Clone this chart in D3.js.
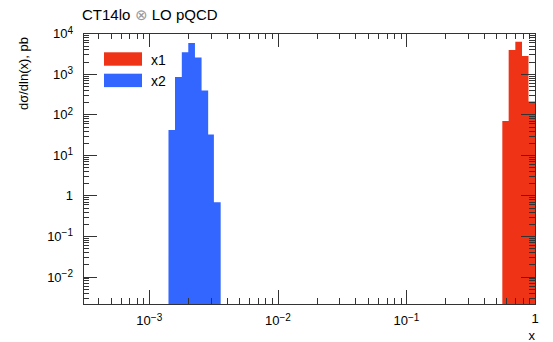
<!DOCTYPE html>
<html>
<head>
<meta charset="utf-8">
<script src="https://cdn.jsdelivr.net/npm/d3@7"></script>
<style>
  body { margin: 0; background: #fff; }
  svg { display: block; font-family: "Liberation Sans", Arial, Helvetica, sans-serif; }
</style>
</head>
<body>
<svg id="chart" width="553" height="342"></svg>
<script>
// histogram bin edges (x) and contents (dsigma/dln(x), pb)
var x1Edges = [0.557, 0.624, 0.703, 0.792, 0.890, 1.0];
var x1Values = [69, 3870, 6210, 2750, 208];
var x2Edges = [0.00141, 0.001585, 0.00179, 0.00201, 0.002265, 0.00255, 0.00287, 0.00318, 0.00359];
var x2Values = [41, 837, 3400, 5770, 2530, 389, 32, 0.68];

var seriesNames = ["x1", "x2"];
var seriesColors = ["#ee3316", "#3366ff"];

var xTickLabels = [[1e-3, "10", "\u22123"], [1e-2, "10", "\u22122"], [1e-1, "10", "\u22121"], [1, "1", ""]];
var yTickLabels = [[1e4, "10", "4"], [1e3, "10", "3"], [1e2, "10", "2"], [1e1, "10", "1"], [1, "1", ""], [1e-1, "10", "\u22121"], [1e-2, "10", "\u22122"]];

var width = 553, height = 342;
// note: "top" is taken by window.top, so the frame edges get their own names
var frameL = 83, frameR = 535, frameT = 33.3, frameB = 304;

var svg = d3.select("#chart");

var x = d3.scaleLog().domain([3.05e-4, 1]).range([frameL, frameR]);
var y = d3.scaleLog().domain([2.1e-3, 1e4]).range([frameB, frameT]);

svg.append("clipPath").attr("id", "plotclip")
  .append("rect").attr("x", frameL).attr("y", frameT).attr("width", frameR - frameL).attr("height", frameB - frameT);

//turn edges + values into bins
function makeBins(edges, values){
  return values.map(function(v, i){
    return {x0: edges[i], x1: edges[i + 1], v: v};
  });
}

var plot = svg.append("g").attr("clip-path", "url(#plotclip)");

[makeBins(x1Edges, x1Values), makeBins(x2Edges, x2Values)].forEach(function(bins, s){
  // build the histogram outline as one path so neighbouring bins don't leave seams
  var pts = [[x(bins[0].x0), frameB]];
  bins.forEach(function(b){
    pts.push([x(b.x0), y(b.v)]);
    pts.push([x(b.x1), y(b.v)]);
  });
  pts.push([x(bins[bins.length - 1].x1), frameB]);
  plot.append("path")
    .attr("d", "M" + pts.map(function(p){ return p.join(","); }).join("L") + "Z")
    .attr("fill", seriesColors[s])
    .attr("stroke", "none");
});

// frame + ticks on all four sides
var axisColor = "#333";
var g = svg.append("g").attr("stroke", axisColor).attr("stroke-width", 1).attr("shape-rendering", "crispEdges");

function isMajor(t){
  var l = Math.log10(t);
  return Math.abs(l - Math.round(l)) < 1e-6;
}

var xt = x.ticks();
var yt = y.ticks();

g.selectAll(".xtick").data(xt).join("line")
  .attr("x1", function(d){ return Math.round(x(d)) + 0.5; })
  .attr("x2", function(d){ return Math.round(x(d)) + 0.5; })
  .attr("y1", frameB)
  .attr("y2", function(d){ return frameB - (isMajor(d) ? 14 : 6); });

g.selectAll(".xtickTop").data(xt).join("line")
  .attr("x1", function(d){ return Math.round(x(d)) + 0.5; })
  .attr("x2", function(d){ return Math.round(x(d)) + 0.5; })
  .attr("y1", frameT)
  .attr("y2", function(d){ return frameT + (isMajor(d) ? 14 : 6); });

g.selectAll(".ytick").data(yt).join("line")
  .attr("y1", function(d){ return Math.round(y(d)) + 0.5; })
  .attr("y2", function(d){ return Math.round(y(d)) + 0.5; })
  .attr("x1", frameL)
  .attr("x2", function(d){ return frameL + (isMajor(d) ? 14 : 6); });

g.selectAll(".ytickRight").data(yt).join("line")
  .attr("y1", function(d){ return Math.round(y(d)) + 0.5; })
  .attr("y2", function(d){ return Math.round(y(d)) + 0.5; })
  .attr("x1", frameR)
  .attr("x2", function(d){ return frameR - (isMajor(d) ? 14 : 6); });

g.append("rect")
  .attr("x", frameL + 0.5).attr("y", Math.round(frameT) + 0.5)
  .attr("width", frameR - frameL).attr("height", frameB - Math.round(frameT))
  .attr("fill", "none");

// tick labels with superscript exponents
function supLabel(sel){
  sel.each(function(d){
    var t = d3.select(this);
    t.append("tspan").text(d[1]);
    if (d[2]) t.append("tspan").attr("dy", "-0.45em").attr("font-size", "10px").text(d[2]);
  });
}

svg.selectAll(".xlab").data(xTickLabels).join("text")
  .attr("x", function(d){ return x(d[0]); })
  .attr("y", function(d){ return d[2] ? 325 : 323; })
  .attr("text-anchor", "middle")
  .attr("font-size", "13px")
  .attr("fill", "#000")
  .call(supLabel);

svg.selectAll(".ylab").data(yTickLabels).join("text")
  .attr("x", 73)
  .attr("y", function(d){ return y(d[0]) + 5; })
  .attr("text-anchor", "end")
  .attr("font-size", "13px")
  .attr("fill", "#000")
  .call(supLabel);

// axis titles
svg.append("text")
  .attr("x", frameR).attr("y", 340)
  .attr("text-anchor", "end")
  .attr("font-size", "13px")
  .text("x");

svg.append("text")
  .attr("transform", "translate(28,37) rotate(-90)")
  .attr("text-anchor", "end")
  .attr("font-size", "13px")
  .text("d\u03c3/dln(x), pb");

// title
var title = svg.append("text").attr("x", 82).attr("y", 20).attr("font-size", "15px");
title.append("tspan").text("CT14lo ");
title.append("tspan").attr("fill", "#999").text("\u2297");
title.append("tspan").text(" LO pQCD");

// legend
var leg = svg.selectAll(".leg").data(seriesNames).join("g")
  .attr("transform", function(d, i){ return "translate(104," + (52.3 + i * 21.4) + ")"; });
leg.append("rect")
  .attr("width", 38).attr("height", 13.4)
  .attr("fill", function(d, i){ return seriesColors[i]; });
leg.append("text")
  .attr("x", 47).attr("y", 12.2)
  .attr("font-size", "14px")
  .text(function(d){ return d; });
</script>
</body>
</html>
